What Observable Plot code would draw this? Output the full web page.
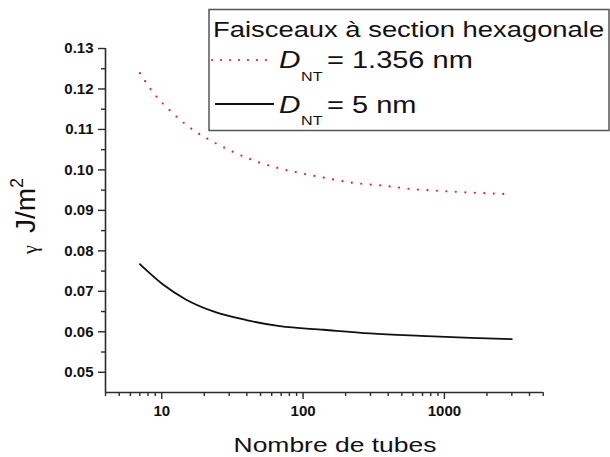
<!DOCTYPE html>
<html><head><meta charset="utf-8">
<script src="https://cdn.jsdelivr.net/npm/d3@7"></script>
<script src="https://cdn.jsdelivr.net/npm/@observablehq/plot@0.6"></script>
<style>body{margin:0;background:#fff;} svg{display:block;}</style>
</head><body><div id="chart"></div>
<script>
// Series: D_NT = 1.356 nm (red dotted)
const tubesA = [7, 8.8, 11.9, 16.5, 22.9, 31.8, 44.2, 61.3, 85.1, 139, 227, 372, 575, 941, 1539, 3000];
const gammaA = [0.1239, 0.1189, 0.1141, 0.1100, 0.1070, 0.1045, 0.1024, 0.1008, 0.0996, 0.0981, 0.0968, 0.0961, 0.0953, 0.0948, 0.0944, 0.0940];
// Series: D_NT = 5 nm (black solid)
const tubesB = [7, 10.1, 14.8, 22.9, 39.6, 68.4, 140, 299, 678, 1539, 3000];
const gammaB = [0.0767, 0.0718, 0.0680, 0.0651, 0.0629, 0.0614, 0.0605, 0.0596, 0.0590, 0.0585, 0.0582];
// Ticks
const yMajorTicks = [0.05, 0.06, 0.07, 0.08, 0.09, 0.10, 0.11, 0.12, 0.13];
const yMinorTicks = [0.055, 0.065, 0.075, 0.085, 0.095, 0.105, 0.115, 0.125];
const xMajorTicks = [10, 100, 1000];
const xMinorTicks = [4, 5, 6, 7, 8, 9, 20, 30, 40, 50, 60, 70, 80, 90, 200, 300, 400, 500, 600, 700, 800, 900, 2000, 3000, 4000, 5000];
// Texts
const legendTitle = "Faisceaux à section hexagonale";
const seriesLabels = ["= 1.356 nm", "= 5 nm"];
const xTitle = "Nombre de tubes";

const dataA = tubesA.map((n, i) => ({n, g: gammaA[i]}));
const dataB = tubesB.map((n, i) => ({n, g: gammaB[i]}));

const axisColor = "#2b2b2b";
const TICKFONT = "'Liberation Sans', Arial, sans-serif";
const svg = Plot.plot({
  width: 610, height: 457,
  marginLeft: 105, marginRight: 67.3, marginTop: 48, marginBottom: 65,
  style: {fontFamily: "'Liberation Sans', Arial, sans-serif", background: "#fff", color: "#111"},
  x: {type: "log", domain: [4, 5000]},
  y: {domain: [0.045, 0.13]},
  marks: [
    Plot.axisY(yMinorTicks, {tickSize: 4, fill: "none", label: null, stroke: axisColor, strokeWidth: 1.4}),
    Plot.axisY(yMajorTicks, {tickSize: 7, tickPadding: 5, tickFormat: d3.format(".2f"), fontSize: 15, fontWeight: "bold", fontFamily: TICKFONT, label: null, stroke: axisColor, strokeWidth: 1.4, fill: "#111"}),
    Plot.axisX(xMinorTicks, {tickSize: 4, fill: "none", label: null, stroke: axisColor, strokeWidth: 1.4}),
    Plot.axisX(xMajorTicks, {tickSize: 7, tickPadding: 6, tickFormat: d3.format("d"), fontSize: 15, fontWeight: "bold", fontFamily: TICKFONT, label: null, stroke: axisColor, strokeWidth: 1.4, fill: "#111"}),
    Plot.ruleX([4], {stroke: axisColor, strokeWidth: 1.6}),
    Plot.ruleY([0.045], {stroke: axisColor, strokeWidth: 1.6}),
    Plot.line(dataA, {x: "n", y: "g", stroke: "#dd2222", strokeWidth: 2.2, strokeLinecap: "round", strokeDasharray: "0,9.5", curve: "monotone-x"}),
    Plot.line(dataB, {x: "n", y: "g", stroke: "#111", strokeWidth: 1.8, curve: "monotone-x"})
  ]
});
document.getElementById("chart").appendChild(svg);

const root = d3.select(svg);
const FONT = "'Liberation Sans', Arial, sans-serif";
function txt(parent, s, x, y, {size = 22, sx = 1.24, anchor = "start", style = "normal", weight = "normal", family = FONT, rotate = 0} = {}) {
  return parent.append("text")
    .attr("transform", `translate(${x},${y})${rotate ? ` rotate(${rotate})` : ""} scale(${sx},1)`)
    .attr("font-family", family).attr("font-size", size).attr("font-style", style)
    .attr("font-weight", weight).attr("text-anchor", anchor).attr("fill", "#111").text(s);
}

// Legend
const lg = root.append("g");
lg.append("rect").attr("x", 209).attr("y", 9.5).attr("width", 400).attr("height", 121)
  .attr("fill", "#fff").attr("stroke", "#555").attr("stroke-width", 1.5);
txt(lg, legendTitle, 213, 37, {size: 22, sx: 1.245});
lg.append("line").attr("x1", 212).attr("x2", 274).attr("y1", 60).attr("y2", 60)
  .attr("stroke", "#dd2222").attr("stroke-width", 2.2).attr("stroke-linecap", "round").attr("stroke-dasharray", "0,9");
lg.append("line").attr("x1", 215).attr("x2", 274).attr("y1", 104).attr("y2", 104)
  .attr("stroke", "#111").attr("stroke-width", 1.8);
[[68, 80.5, seriesLabels[0]], [112.5, 125, seriesLabels[1]]].forEach(([b, sb, s]) => {
  txt(lg, "D", 279, b, {size: 24, style: "italic"});
  txt(lg, "NT", 301, sb, {size: 13});
  txt(lg, s, 327, b, {size: 23, sx: 1.26});
});

// Axis titles
txt(root, xTitle, 335, 452, {size: 21, sx: 1.26, anchor: "middle"});
const yl = root.append("text")
  .attr("transform", "translate(35,233) rotate(-90)")
  .attr("text-anchor", "start")
  .attr("font-family", FONT).attr("font-size", 28).attr("fill", "#111");
yl.append("tspan").text("J/m");
yl.append("tspan").attr("font-size", 18).attr("dy", -12).text("2");
txt(root, "γ", 37, 254, {size: 20, sx: 1, rotate: -90, family: "'Liberation Serif', 'DejaVu Serif', serif"});
</script>
</body></html>
